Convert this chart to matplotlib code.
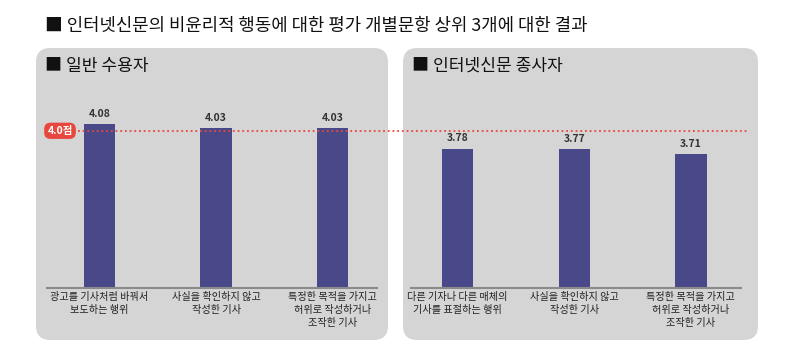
import matplotlib.pyplot as plt
import matplotlib.transforms as mtransforms
from matplotlib.patches import FancyBboxPatch

plt.rcParams["font.family"] = ["Noto Sans CJK KR", "DejaVu Sans"]

# data
title = "■ 인터넷신문의 비윤리적 행동에 대한 평가 개별문항 상위 3개에 대한 결과"
panel_titles = ["■ 일반 수용자", "■ 인터넷신문 종사자"]
public_labels = ["광고를 기사처럼 바꿔서\n보도하는 행위",
                 "사실을 확인하지 않고\n작성한 기사",
                 "특정한 목적을 가지고\n허위로 작성하거나\n조작한 기사"]
public_values = [4.08, 4.03, 4.03]
staff_labels = ["다른 기자나 다른 매체의\n기사를 표절하는 행위",
                "사실을 확인하지 않고\n작성한 기사",
                "특정한 목적을 가지고\n허위로 작성하거나\n조작한 기사"]
staff_values = [3.78, 3.77, 3.71]
ref_value = 4.0
ref_label = "4.0점"

BAR = "#49498a"
PANEL = "#d5d5d5"
RED = "#e8473d"

W, H = 792, 363
fig = plt.figure(figsize=(W / 100, H / 100), dpi=100)
fig.patch.set_facecolor("white")


def fx(px):
    return px / W


def fy(py):
    return 1 - py / H


# grey rounded panels (behind the axes)
for x0, x1 in [(36, 388), (403, 758)]:
    fig.patches.append(FancyBboxPatch(
        (fx(x0), fy(340)), fx(x1 - x0), (340 - 48) / H,
        boxstyle="round,pad=0,rounding_size=0.018",
        transform=fig.transFigure, facecolor=PANEL, edgecolor="none",
        mutation_aspect=W / H, zorder=-5))

fig.text(fx(45), fy(26), title, fontsize=12.8, color="#111111",
         va="center", ha="left", fontweight="medium")
fig.text(fx(45), fy(66), panel_titles[0], fontsize=12.3, color="#111111",
         va="center", ha="left", fontweight="medium")
fig.text(fx(412), fy(66), panel_titles[1], fontsize=12.3, color="#111111",
         va="center", ha="left", fontweight="medium")

bottom = (H - 288) / H
height = 188 / H
ax1 = fig.add_axes([fx(47), bottom, fx(330), height])
ax2 = fig.add_axes([fx(411), bottom, fx(330), height])

setups = [(ax1, public_labels, public_values, (-0.45, 2.38)),
          (ax2, staff_labels, staff_values, (-0.40, 2.43))]
for ax, labels, values, xlim in setups:
    ax.patch.set_visible(False)
    x = range(len(values))
    ax.bar(x, values, width=0.27, color=BAR, zorder=2)
    for xi, v in zip(x, values):
        ax.annotate(f"{v:.2f}", (xi, v), xytext=(0, 4), textcoords="offset points",
                    ha="center", va="bottom", fontsize=7.5, color="#333333",
                    fontweight="bold")
    ax.set_xlim(*xlim)
    ax.set_ylim(2.06, 4.38)
    ax.set_xticks(list(x))
    ax.set_xticklabels(labels, fontsize=7.3, color="#222222", linespacing=1.35,
                       va="top", fontweight="medium")
    ax.tick_params(axis="x", length=0, pad=3)
    ax.set_yticks([])
    for s in ["top", "right", "left"]:
        ax.spines[s].set_visible(False)
    ax.spines["bottom"].set_color("#8a8a8a")
    ax.spines["bottom"].set_linewidth(1.5)

# reference line across both panels
trans = mtransforms.blended_transform_factory(fig.transFigure, ax1.transData)
ax1.plot([fx(78), fx(748)], [ref_value, ref_value], transform=trans,
         color=RED, linestyle=(0, (1, 1.6)), linewidth=1.3, clip_on=False, zorder=3)
ax1.text(fx(60), ref_value, ref_label, transform=trans, ha="center", va="center",
         fontsize=7.5, fontweight="bold", color="white", zorder=4,
         bbox=dict(boxstyle="round,pad=0.3,rounding_size=0.6", fc=RED, ec="none"))

fig.savefig("out.png", dpi=100)
